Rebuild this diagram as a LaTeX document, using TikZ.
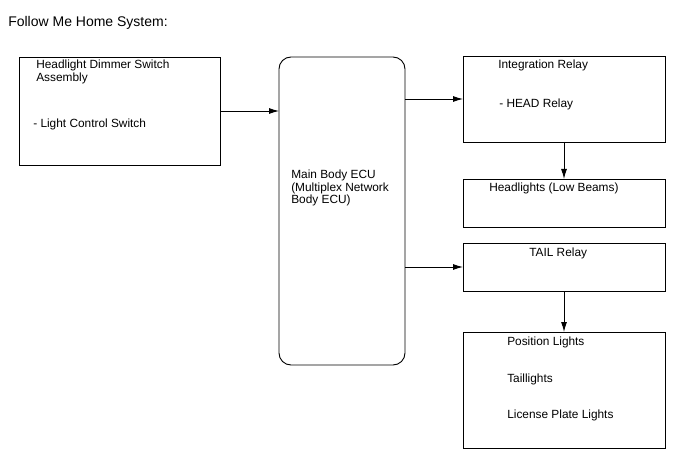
\documentclass[tikz,border=0pt]{standalone}
\usepackage{fontspec}
\setmainfont{Liberation Sans}
\usetikzlibrary{arrows.meta}
\begin{document}
\begin{tikzpicture}[x=0.75pt,y=-0.75pt,
 box/.style={draw,line width=0.7pt,inner sep=0,outer sep=0},
 lbl/.style={anchor=base west,inner sep=0,font=\fontsize{8.9}{10}\selectfont},
 arr/.style={line width=0.7pt,-{Latex[length=7.5pt,width=4.5pt]}}]
\useasboundingbox (0,0) rectangle (688,463);
\node[anchor=base west, inner sep=0, font=\fontsize{10.5}{12}\selectfont] (title) at (8,27) {Follow Me Home System:};
% boxes
\node[box, minimum width=150.75pt, minimum height=81pt] (sw) at (119.5,111) {};
\node[box, rounded corners=9pt, minimum width=94.5pt, minimum height=231pt] (ecu) at (342,211) {};
\node[box, minimum width=151.5pt, minimum height=64.5pt] (intrel) at (564,99) {};
\node[box, minimum width=151.5pt, minimum height=36pt] (head) at (564,203) {};
\node[box, minimum width=151.5pt, minimum height=36pt] (tail) at (564,267) {};
\node[box, minimum width=151.5pt, minimum height=87pt] (pos) at (564,390) {};
% labels
\node[lbl] (t1) at (36,69) {Headlight Dimmer Switch};
\node[lbl] (t2) at (36,82) {Assembly};
\node[lbl] (t3) at (33,128) {- Light Control Switch};
\node[lbl] (e1) at (291,179) {Main Body ECU};
\node[lbl] (e2) at (291,192) {(Multiplex Network};
\node[lbl] (e3) at (291,204) {Body ECU)};
\node[lbl] (i1) at (498,69) {Integration Relay};
\node[lbl] (i2) at (499,108) {- HEAD Relay};
\node[lbl] (h1) at (489,192) {Headlights (Low Beams)};
\node[lbl] (r1) at (529,257) {TAIL Relay};
\node[lbl] (p1) at (507,345) {Position Lights};
\node[lbl] (p2) at (507,382) {Taillights};
\node[lbl] (p3) at (507,418) {License Plate Lights};
% connectors
\draw[arr] (sw.east) -- (sw.east -| ecu.west);
\draw[arr] (intrel.west -| ecu.east) -- (intrel.west);
\draw[arr] (tail.west -| ecu.east) -- (tail.west);
\draw[arr] (intrel.south) -- (head.north);
\draw[arr] (tail.south) -- (pos.north);
\end{tikzpicture}
\end{document}
